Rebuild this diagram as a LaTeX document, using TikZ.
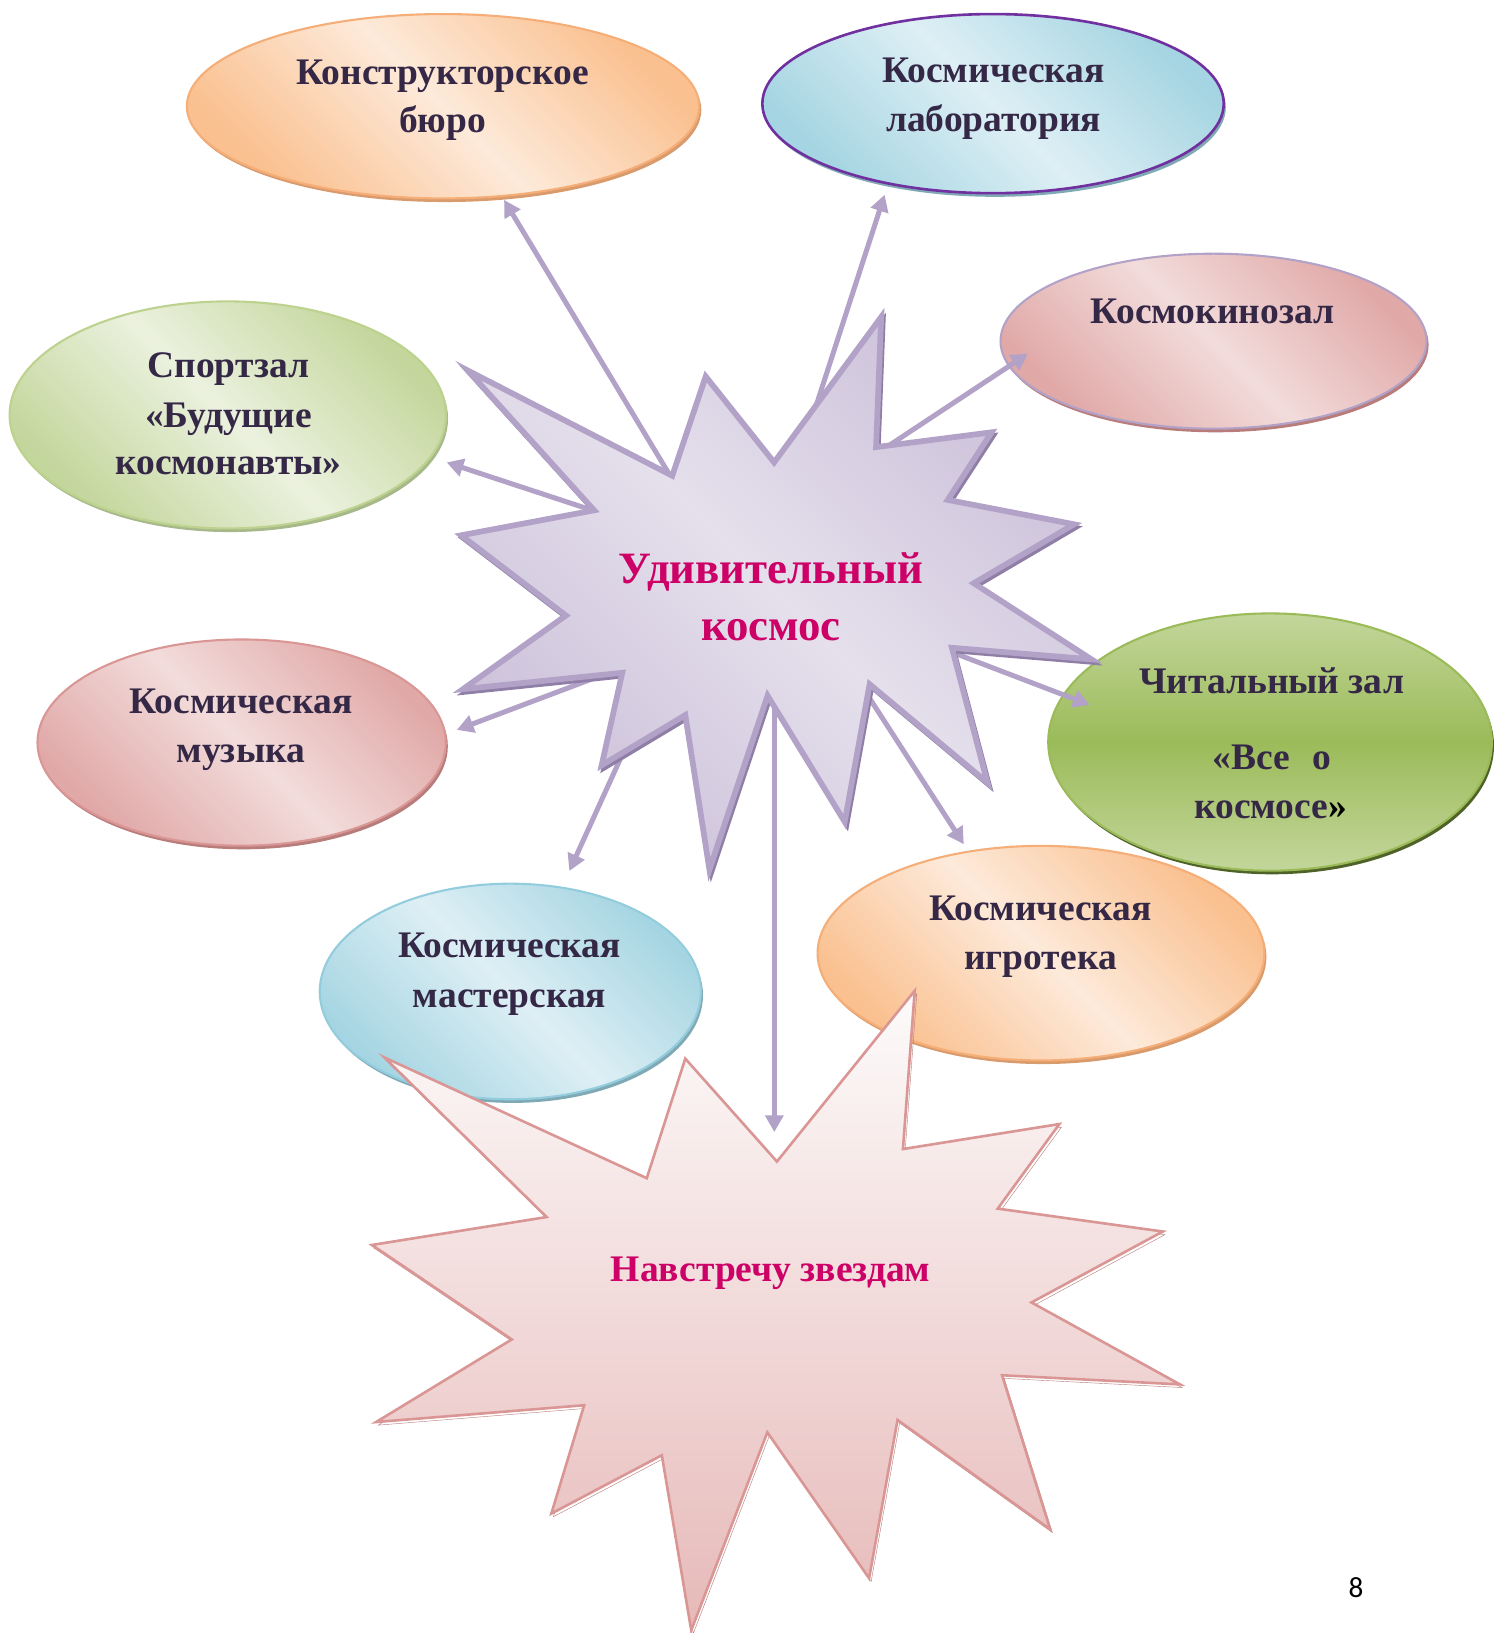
\documentclass[tikz,border=0pt]{standalone}
\usepackage{fontspec}
\setmainfont{Liberation Serif}
\newfontfamily\pagenumfont{Carlito}
\usetikzlibrary{shapes.geometric,arrows.meta,shadows}
\definecolor{txt}{HTML}{342846}
\definecolor{mag}{HTML}{CC0066}
\definecolor{arr}{HTML}{B3A2C7}
\definecolor{orA}{HTML}{FAC08F}
\definecolor{orB}{HTML}{FDEADA}
\definecolor{orD}{HTML}{F5AE78}
\definecolor{orS}{HTML}{D99A6C}
\definecolor{blA}{HTML}{A5D5E2}
\definecolor{blB}{HTML}{DEEFF5}
\definecolor{blD}{HTML}{93CDDD}
\definecolor{blS}{HTML}{7FA9B5}
\definecolor{purp}{HTML}{7030A0}
\definecolor{pkA}{HTML}{E0A8A7}
\definecolor{pkB}{HTML}{F2DCDB}
\definecolor{pkD}{HTML}{D99694}
\definecolor{pkS}{HTML}{B87C7B}
\definecolor{grA}{HTML}{C3D69B}
\definecolor{grB}{HTML}{EBF1DE}
\definecolor{grD}{HTML}{BCD28E}
\definecolor{grS}{HTML}{A7B98A}
\definecolor{gmA}{HTML}{C3D69B}
\definecolor{gmB}{HTML}{9BBB59}
\definecolor{gmS}{HTML}{4F6228}
\definecolor{stA}{HTML}{CCC1DA}
\definecolor{stB}{HTML}{E5E0EC}
\definecolor{stS}{HTML}{8F7FA6}
\definecolor{bsA}{HTML}{FDFBFB}
\definecolor{bsB}{HTML}{E6B9B8}
\begin{document}
\begin{tikzpicture}[x=1pt,y=-1pt,
  oval/.style={ellipse, inner sep=0pt, line width=2pt},
  lbl/.style={anchor=base, inner sep=0pt, text=txt, font=\fontsize{36}{40}\selectfont\bfseries},
  hl/.style={anchor=base, inner sep=0pt, text=mag, font=\fontsize{43}{46}\selectfont\bfseries},
  hlb/.style={anchor=base, inner sep=0pt, text=mag, font=\fontsize{36}{40}\selectfont\bfseries},
  conn/.style={draw=arr, line width=4.8pt, -{Triangle[length=16pt,width=17pt]}},
  sh/.style={drop shadow={shadow xshift=2pt, shadow yshift=-3.5pt, fill=#1, opacity=1}},
  diag/.style 2 args={top color=#1, bottom color=#1, middle color=#2, shading angle=-45},
]
\useasboundingbox (0,0) rectangle (1435,1568);
\fill[white] (0,0) rectangle (1435,1568);

% ellipses
\node[oval, minimum width=492pt, minimum height=177pt, draw=orD, diag={orA}{orB}, sh=orS] (e1) at (425.4,102) {};
\node[oval, minimum width=443pt, minimum height=172pt, draw=purp, line width=2.5pt, diag={blA}{blB}, sh=blS] (e2) at (953.5,99.5) {};
\node[oval, minimum width=409pt, minimum height=168pt, draw=arr, diag={pkA}{pkB}, sh=pkS] (e3) at (1165.2,327.6) {};
\node[oval, minimum width=419pt, minimum height=218pt, draw=grD, diag={grA}{grB}, sh=grS] (e4) at (218.7,398.4) {};
\node[oval, minimum width=392pt, minimum height=198pt, draw=pkD, diag={pkA}{pkB}, sh=pkS] (e5) at (232,713) {};
\node[oval, minimum width=426pt, minimum height=247pt, draw=gmB, top color=gmA, bottom color=gmA, middle color=gmB, sh=gmS] (e6) at (1219.5,712.5) {};
\node[oval, minimum width=366pt, minimum height=207pt, draw=blD, diag={blA}{blB}, sh=blS] (e7) at (490,952) {};
\node[oval, minimum width=429pt, minimum height=206pt, draw=orD, diag={orA}{orB}, sh=orS] (e8) at (999.5,915.2) {};

% bottom star
\path[draw=pkD, line width=2.5pt, line join=miter, top color=bsA, bottom color=bsB,
  drop shadow={shadow xshift=2pt, shadow yshift=-3pt, fill=none, draw=pkS, opacity=1}]
  (369,1015.3) -- (621,1131.3) -- (658,1016.5) -- (746,1115.3) -- (878.3,951.3) -- (867,1103.3)
  -- (1017.2,1079.3) -- (958,1160.5) -- (1116.5,1182.5) -- (990.4,1250.6) -- (1133,1329.3)
  -- (962.2,1320.5) -- (1008.4,1468.5) -- (861.8,1363.4) -- (834.5,1515.4) -- (736.8,1375.3)
  -- (663.7,1565.4) -- (635.5,1397.3) -- (529.4,1453.3) -- (560.9,1349.3) -- (361.2,1365.4)
  -- (491.4,1286.1) -- (357.1,1195.4) -- (524.8,1168.6) -- cycle;

% connector coordinates
\coordinate (s1) at (655,476);   \coordinate (t1) at (484,192);
\coordinate (s2) at (757.5,470); \coordinate (t2) at (849.4,187);
\coordinate (s3) at (820,450);   \coordinate (t3) at (987,339.6);
\coordinate (s4) at (590,497);   \coordinate (t4) at (428.9,444);
\coordinate (s5) at (600,640);   \coordinate (t5) at (438.7,700.8);
\coordinate (s6) at (615,686);   \coordinate (t6) at (546.7,836.3);
\coordinate (s7) at (743.5,660); \coordinate (t7) at (743.5,1087);
\coordinate (s8) at (825,655);   \coordinate (t8) at (925.4,810.6);
\coordinate (s9) at (895,619);   \coordinate (t9) at (1046.3,676.8);
\foreach \i in {1,...,9} { \draw[conn] (s\i) -- (t\i); }

% central star
\path[draw=arr, line width=5.5pt, line join=miter, miter limit=20, diag={stA}{stB},
  drop shadow={shadow xshift=2pt, shadow yshift=-3pt, fill=none, draw=stS, line width=4.5pt, opacity=1}]
  (449.3,355.8) -- (645.5,456.8) -- (677.6,361.5) -- (743.3,444) -- (846.1,304.4) -- (841.2,429.3)
  -- (952.1,415.1) -- (910,480) -- (1031.3,503.4) -- (935,560) -- (1048,633.1) -- (914,622)
  -- (948.1,751.4) -- (835,657) -- (811.1,789.1) -- (737,668) -- (681.2,835) -- (658,686.6)
  -- (577.7,734.8) -- (597.5,646) -- (444.6,661.7) -- (543.4,591) -- (442.8,514) -- (570.5,490) -- cycle;

% texts
\node[lbl] (e1a) at (425,81) {Конструкторское};
\node[lbl] (e1b) at (425,127) {бюро};
\node[lbl] (e2a) at (954,79.6) {Космическая};
\node[lbl] (e2b) at (954,126.2) {лаборатория};
\node[lbl] (e3a) at (1164.3,310.5) {Космокинозал};
\node[lbl] (e4a) at (219.4,362) {Спортзал};
\node[lbl] (e4b) at (219.4,410) {«Будущие};
\node[lbl] (e4c) at (219.4,456) {космонавты»};
\node[lbl] (e5a) at (231.3,684.7) {Космическая};
\node[lbl] (e5b) at (231.3,731.7) {музыка};
\node[lbl] (e6a) at (1221,665.5) {Читальный зал};
\node[lbl] (e6b) at (1221,738.5) {«Все\hspace{0.6em}о};
\node[lbl] (e6c) at (1220,785.6) {космосе\textcolor{black}{»}};
\node[lbl] (e7a) at (489.3,919.3) {Космическая};
\node[lbl] (e7b) at (489.3,967.3) {мастерская};
\node[lbl] (e8a) at (999.1,883.7) {Космическая};
\node[lbl] (e8b) at (999.1,930.6) {игротека};
\node[hl] (c1) at (740.2,559.8) {Удивительный};
\node[hl] (c2) at (740.2,615) {космос};
\node[hlb] (b1) at (740,1230) {Навстречу звездам};
\node[anchor=base, inner sep=0pt, font=\pagenumfont\fontsize{28}{30}\selectfont] (pg) at (1302,1534) {8};
\end{tikzpicture}
\end{document}
